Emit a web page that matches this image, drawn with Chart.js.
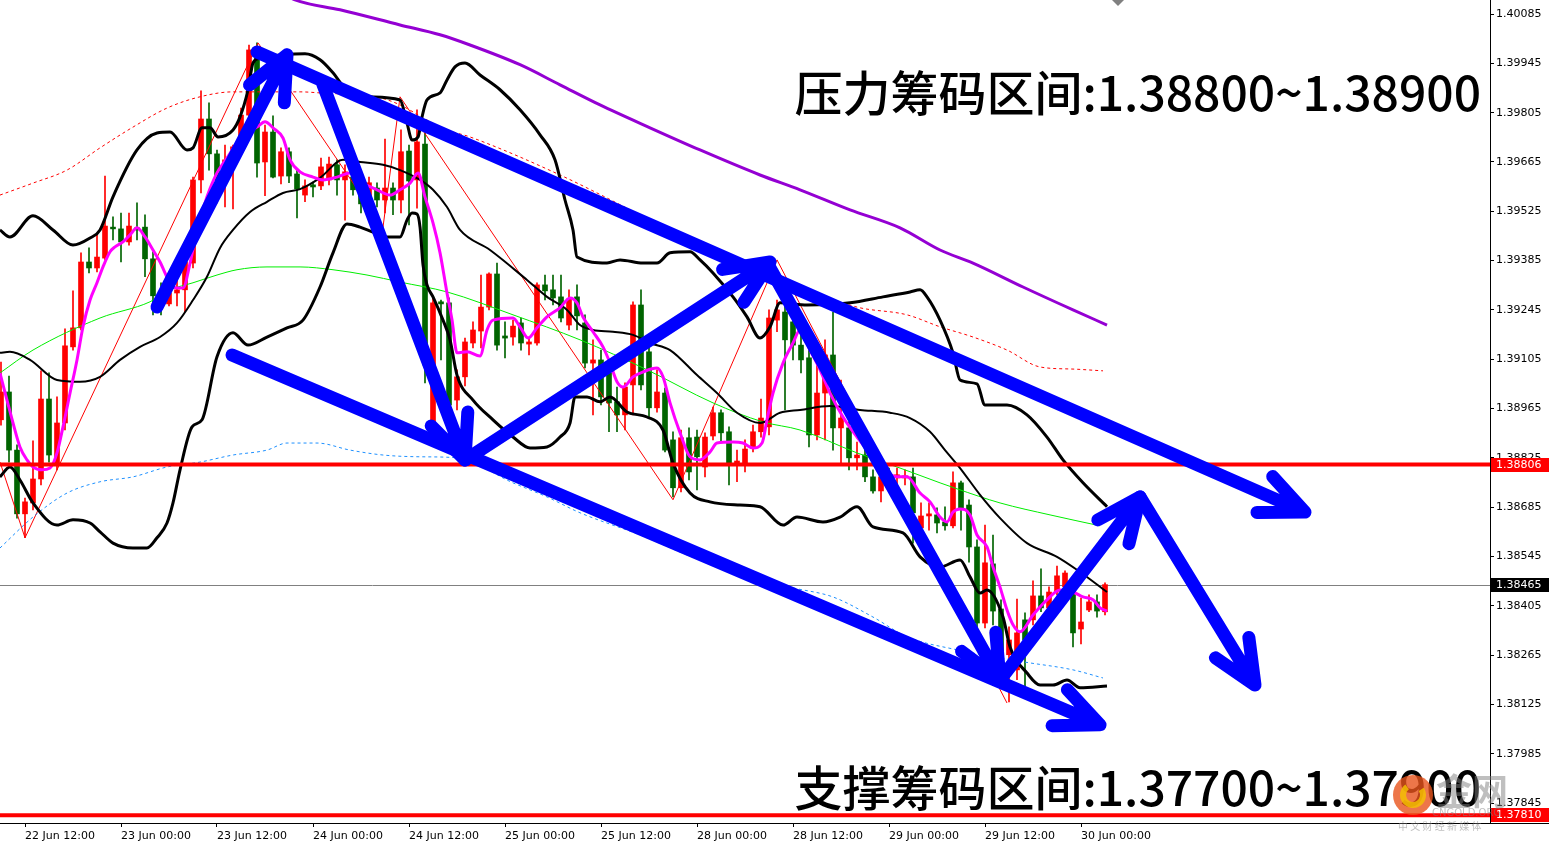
<!DOCTYPE html>
<html>
<head>
<meta charset="utf-8">
<script src="https://cdn.jsdelivr.net/npm/chart.js@4/dist/chart.umd.min.js"></script>
<style>
html,body{margin:0;padding:0;background:#fff;overflow:hidden}
canvas{display:block}
</style>
</head>
<body>
<canvas id="c" width="1549" height="843"></canvas>
<script>
// H1 bars, index 0 = 22 Jun 12:00
const firstBar = -3;
const candleOpen = [1.38933,1.39012,1.38847,1.38666,1.38697,1.38765,1.38992,1.38805,1.38924,1.39140,
1.39194,1.39381,1.39364,1.39392,1.39480,1.39475,1.39438,1.39478,1.39480,1.39390,
1.39285,1.39262,1.39293,1.39302,1.39378,1.39614,1.39787,1.39688,1.39614,1.39651,
1.39708,1.39798,1.39963,1.39665,1.39750,1.39625,1.39694,1.39631,1.39571,1.39600,
1.39597,1.39614,1.39657,1.39614,1.39622,1.39591,1.39566,1.39591,1.39557,1.39591,
1.39557,1.39696,1.39614,1.39716,1.38918,1.39268,1.39265,1.38989,1.39055,1.39151,
1.39185,1.39253,1.39347,1.39171,1.39168,1.39208,1.39148,1.39151,1.39316,1.39302,
1.39282,1.39202,1.39282,1.39208,1.39094,1.39103,1.39066,1.38984,1.38947,1.39032,
1.39259,1.39126,1.38967,1.39009,1.38876,1.38740,1.38882,1.38884,1.38799,1.38887,
1.38953,1.38899,1.38810,1.38810,1.38856,1.38899,1.38913,1.39216,1.39239,1.39211,
1.39145,1.39109,1.38890,1.39009,1.39117,1.38910,1.38910,1.38825,1.38833,1.38771,
1.38731,1.38779,1.38768,1.38768,1.38771,1.38626,1.38660,1.38663,1.38643,1.38632,
1.38754,1.38691,1.38572,1.38356,1.38524,1.38396,1.38266,1.38223,1.38365,1.38365,
1.38433,1.38399,1.38444,1.38459,1.38459,1.38339,1.38393,1.38416,1.38388];
const candleHigh = [1.39097,1.39057,1.38862,1.38711,1.38873,1.39072,1.39066,1.38998,1.39191,1.39299,
1.39407,1.39421,1.39461,1.39625,1.39509,1.39520,1.39520,1.39549,1.39515,1.39410,
1.39322,1.39322,1.39336,1.39401,1.39622,1.39867,1.39833,1.39699,1.39713,1.39713,
1.39818,1.39997,1.40003,1.39770,1.39796,1.39705,1.39705,1.39645,1.39614,1.39608,
1.39676,1.39679,1.39671,1.39657,1.39637,1.39608,1.39622,1.39606,1.39730,1.39606,
1.39756,1.39713,1.39813,1.39747,1.39282,1.39273,1.39279,1.39075,1.39165,1.39211,
1.39344,1.39350,1.39378,1.39211,1.39216,1.39222,1.39168,1.39322,1.39344,1.39344,
1.39344,1.39302,1.39316,1.39231,1.39160,1.39131,1.39103,1.39026,1.39038,1.39268,
1.39302,1.39145,1.39075,1.39023,1.38899,1.38904,1.38910,1.38904,1.38896,1.38969,
1.38961,1.38913,1.38847,1.38876,1.38918,1.38992,1.39245,1.39273,1.39259,1.39253,
1.39236,1.39145,1.39154,1.39160,1.39239,1.39046,1.38927,1.38870,1.38847,1.38791,
1.38791,1.38796,1.38796,1.38791,1.38796,1.38697,1.38697,1.38683,1.38686,1.38785,
1.38759,1.38706,1.38592,1.38634,1.38606,1.38422,1.38345,1.38424,1.38385,1.38476,
1.38510,1.38459,1.38518,1.38504,1.38478,1.38427,1.38436,1.38436,1.38470];
const candleLow = [1.38918,1.38813,1.38654,1.38598,1.38677,1.38748,1.38813,1.38791,1.38904,1.39131,
1.39188,1.39350,1.39353,1.39387,1.39444,1.39381,1.39429,1.39444,1.39339,1.39231,
1.39231,1.39256,1.39256,1.39239,1.39364,1.39577,1.39642,1.39549,1.39537,1.39532,
1.39699,1.39784,1.39622,1.39569,1.39620,1.39603,1.39606,1.39506,1.39552,1.39566,
1.39586,1.39600,1.39571,1.39500,1.39571,1.39520,1.39543,1.39537,1.39520,1.39515,
1.39520,1.39486,1.39534,1.39038,1.38890,1.39103,1.38953,1.38961,1.39029,1.39137,
1.39137,1.39245,1.39131,1.39109,1.39145,1.39131,1.39117,1.39145,1.39273,1.39259,
1.39211,1.39188,1.39188,1.39080,1.38947,1.38975,1.38899,1.38899,1.38904,1.38947,
1.39018,1.38941,1.38955,1.38842,1.38714,1.38728,1.38762,1.38734,1.38771,1.38876,
1.38867,1.38748,1.38757,1.38785,1.38842,1.38884,1.38890,1.39183,1.38961,1.39103,
1.39066,1.38856,1.38876,1.38876,1.38847,1.38810,1.38791,1.38791,1.38757,1.38725,
1.38700,1.38734,1.38740,1.38748,1.38583,1.38598,1.38620,1.38612,1.38620,1.38626,
1.38620,1.38529,1.38336,1.38342,1.38351,1.38223,1.38132,1.38195,1.38175,1.38351,
1.38388,1.38388,1.38436,1.38450,1.38288,1.38297,1.38388,1.38373,1.38379];
const candleClose = [1.39012,1.38847,1.38666,1.38700,1.38765,1.38992,1.38833,1.38924,1.39143,1.39194,
1.39381,1.39364,1.39395,1.39483,1.39475,1.39438,1.39483,1.39472,1.39390,1.39285,
1.39262,1.39293,1.39302,1.39381,1.39614,1.39787,1.39688,1.39614,1.39671,1.39708,
1.39798,1.39983,1.39662,1.39750,1.39622,1.39694,1.39625,1.39588,1.39597,1.39594,
1.39651,1.39659,1.39614,1.39637,1.39586,1.39546,1.39606,1.39557,1.39591,1.39557,
1.39694,1.39611,1.39722,1.39089,1.39265,1.39262,1.38975,1.39055,1.39154,1.39188,
1.39253,1.39347,1.39145,1.39165,1.39199,1.39151,1.39154,1.39316,1.39299,1.39279,
1.39222,1.39276,1.39228,1.39094,1.39103,1.38998,1.38981,1.38947,1.39026,1.39259,
1.39032,1.38967,1.39012,1.38847,1.38740,1.38882,1.38785,1.38828,1.38884,1.38953,
1.38896,1.38810,1.38816,1.38850,1.38899,1.38938,1.39222,1.39245,1.39160,1.39145,
1.39103,1.38890,1.39009,1.39117,1.38910,1.38938,1.38825,1.38833,1.38771,1.38731,
1.38771,1.38768,1.38777,1.38774,1.38669,1.38660,1.38666,1.38640,1.38632,1.38754,
1.38683,1.38572,1.38356,1.38527,1.38390,1.38251,1.38308,1.38328,1.38308,1.38433,
1.38399,1.38444,1.38490,1.38498,1.38328,1.38359,1.38416,1.38390,1.38465];

const tickBars = [0,12,24,36,48,60,72,84,96,108,120,132];
const timeLabels = ['22 Jun 12:00','23 Jun 00:00','23 Jun 12:00','24 Jun 00:00','24 Jun 12:00','25 Jun 00:00',
  '25 Jun 12:00','28 Jun 00:00','28 Jun 12:00','29 Jun 00:00','29 Jun 12:00','30 Jun 00:00'];
const priceTicks = [1.40085,1.39945,1.39805,1.39665,1.39525,1.39385,1.39245,1.39105,1.38965,1.38825,
  1.38685,1.38545,1.38405,1.38265,1.38125,1.37985,1.37845];

// indicator lines: [bar, price]
const bbUpper = [[-3.13,1.39472],[-1.88,1.39452],[1,1.39512],[3.5,1.39472],[6,1.39429],[8.13,1.39449],[9.38,1.39472],[11,1.39566],[14,1.39699],[16.5,1.39747],[18.13,1.39750],[20.25,1.39699],[21,1.39705],[22.13,1.39762],[23.13,1.39762],[24.13,1.39736],[26,1.39756],[26.88,1.39793],[27.88,1.39870],[28.5,1.39946],[29.38,1.39960],[32.25,1.39969],[35,1.39972],[36.88,1.39955],[38.5,1.39918],[40,1.39875],[42.75,1.39850],[46.88,1.39841],[47.75,1.39776],[48.38,1.39727],[49.13,1.39736],[49.63,1.39793],[50.25,1.39841],[51.88,1.39861],[52.75,1.39898],[53.75,1.39935],[55,1.39946],[56.88,1.39912],[59.38,1.39870],[61.88,1.39813],[64.38,1.39742],[66.25,1.39671],[67.5,1.39557],[68.5,1.39472],[69,1.39395],[72.75,1.39378],[74.38,1.39387],[77.25,1.39378],[79,1.39378],[80.63,1.39407],[83.13,1.39410],[84.38,1.39387],[86,1.39350],[88.5,1.39282],[90.25,1.39225],[91.88,1.39165],[93.13,1.39197],[94.38,1.39265],[97.75,1.39259],[103.13,1.39265],[107.25,1.39282],[110.63,1.39296],[111.88,1.39302],[112.75,1.39282],[114.38,1.39216],[116,1.39123],[116.88,1.39046],[119,1.39035],[120,1.38975],[122.75,1.38975],[125.25,1.38947],[127.75,1.38884],[129.75,1.38819],[132.25,1.38754],[135.25,1.38686]];
const bbMiddle = [[-3.13,1.39123],[-1.88,1.39126],[0.63,1.39103],[4,1.39046],[6.88,1.39041],[9.38,1.39055],[11.88,1.39103],[14.38,1.39140],[16.88,1.39168],[19,1.39208],[21,1.39273],[22.75,1.39339],[24.38,1.39421],[26,1.39472],[28.13,1.39523],[30.25,1.39552],[32.25,1.39577],[34.38,1.39588],[36.88,1.39620],[39.75,1.39671],[41.88,1.39665],[44.75,1.39657],[46.88,1.39642],[49.38,1.39614],[51,1.39586],[52.75,1.39537],[54.38,1.39472],[58.13,1.39415],[62.75,1.39330],[65.25,1.39282],[67.75,1.39245],[69.38,1.39202],[71,1.39188],[73.5,1.39183],[76,1.39174],[78.13,1.39151],[80.63,1.39131],[84,1.39060],[86.5,1.39009],[89,1.38953],[91.88,1.38924],[94.38,1.38953],[96.88,1.38961],[100.63,1.38972],[104.38,1.38961],[108.13,1.38953],[110.63,1.38938],[113.13,1.38899],[115,1.38847],[116.88,1.38796],[119.38,1.38720],[121.88,1.38654],[125.25,1.38583],[129,1.38544],[131.88,1.38501],[135.25,1.38444]];
const bbLower = [[-3.13,1.38771],[-1.88,1.38799],[-0.63,1.38762],[1,1.38697],[4,1.38634],[6,1.38649],[8.13,1.38640],[9.38,1.38615],[11,1.38583],[13.5,1.38569],[15.25,1.38569],[16.5,1.38598],[17.75,1.38640],[18.5,1.38697],[19.38,1.38791],[20.88,1.38913],[22.13,1.38933],[24,1.39112],[26,1.39180],[27.88,1.39145],[30.25,1.39168],[32.75,1.39194],[34.75,1.39216],[36.88,1.39310],[38.5,1.39407],[40.25,1.39489],[41.88,1.39480],[43.5,1.39466],[45.25,1.39452],[46.88,1.39452],[47.75,1.39500],[48.38,1.39520],[49,1.39517],[49.38,1.39480],[49.75,1.39373],[50.25,1.39316],[51,1.39282],[52.25,1.39216],[53.13,1.39160],[54,1.39060],[56,1.38989],[58.5,1.38933],[61,1.38884],[63.13,1.38853],[65.25,1.38856],[66.88,1.38884],[68.13,1.38924],[68.75,1.38998],[70.25,1.38998],[71.88,1.38984],[73.13,1.38998],[75.25,1.38955],[77.75,1.38941],[79.75,1.38904],[81,1.38810],[83.13,1.38725],[85.63,1.38700],[89.38,1.38691],[91.88,1.38686],[94.75,1.38634],[96.5,1.38657],[99.75,1.38643],[101.88,1.38657],[104,1.38686],[106,1.38629],[109.75,1.38612],[111.88,1.38544],[114.38,1.38515],[116.88,1.38535],[118.13,1.38487],[119.38,1.38441],[120.25,1.38450],[122.25,1.38373],[123.13,1.38288],[125.25,1.38214],[126.88,1.38180],[128.5,1.38180],[130.25,1.38194],[131.88,1.38172],[135.25,1.38177]];
const fastMa = [[-3.13,1.39066],[-2.25,1.38989],[-1.5,1.38924],[-0.63,1.38856],[0.25,1.38819],[1,1.38799],[2.13,1.38791],[3.13,1.38796],[4,1.38839],[4.75,1.38913],[5.63,1.39009],[6.5,1.39103],[7.25,1.39197],[8.13,1.39273],[9,1.39322],[9.75,1.39367],[10.63,1.39410],[11.25,1.39424],[12.25,1.39438],[13.13,1.39458],[14,1.39478],[15,1.39452],[16,1.39415],[16.88,1.39381],[18.13,1.39322],[19,1.39307],[19.75,1.39307],[20.63,1.39378],[21.5,1.39472],[22.75,1.39566],[24,1.39634],[25.25,1.39676],[26.5,1.39719],[27.75,1.39747],[29,1.39764],[30,1.39779],[31,1.39762],[32.25,1.39733],[33.13,1.39671],[34.38,1.39637],[36,1.39622],[37.25,1.39614],[39,1.39622],[40.63,1.39634],[42.25,1.39605],[44,1.39586],[45.63,1.39571],[46.88,1.39586],[48.13,1.39605],[49.13,1.39634],[50,1.39566],[51,1.39492],[51.88,1.39407],[52.75,1.39293],[53.38,1.39216],[54,1.39123],[55.25,1.39126],[56.88,1.39114],[57.75,1.39188],[58.5,1.39216],[61,1.39222],[61.88,1.39197],[62.88,1.39165],[64,1.39194],[65.25,1.39225],[66.88,1.39251],[68.13,1.39279],[69,1.39265],[69.75,1.39225],[71,1.39183],[72.25,1.39140],[73.13,1.39094],[74,1.39041],[74.75,1.39026],[76,1.39055],[77.25,1.39069],[79,1.39080],[79.75,1.39055],[80.63,1.38981],[81.88,1.38896],[83.13,1.38828],[84.38,1.38819],[85.63,1.38842],[86.5,1.38867],[88.5,1.38870],[89.75,1.38867],[91,1.38853],[92.13,1.38867],[92.75,1.38933],[93.5,1.39009],[94.75,1.39094],[96,1.39151],[96.88,1.39188],[98.13,1.39131],[99.38,1.39075],[100.63,1.39009],[102.25,1.38941],[104,1.38884],[106,1.38828],[107.75,1.38785],[109,1.38771],[110.25,1.38771],[111.88,1.38725],[113.13,1.38700],[114.38,1.38657],[115.25,1.38643],[116,1.38671],[116.88,1.38680],[118.13,1.38663],[119,1.38606],[120.25,1.38572],[121,1.38515],[121.88,1.38458],[122.75,1.38393],[123.5,1.38351],[124.38,1.38331],[126,1.38379],[127.75,1.38422],[129.38,1.38450],[131,1.38444],[132.25,1.38430],[133.5,1.38422],[134.38,1.38399],[135.25,1.38390]];
const slowMa = [[-3.13,1.39066],[1,1.39131],[9.38,1.39222],[15.63,1.39268],[18.13,1.39302],[21,1.39322],[24,1.39344],[26.5,1.39359],[30.25,1.39367],[34.38,1.39367],[38.5,1.39359],[42.75,1.39344],[46.88,1.39324],[52.75,1.39296],[61,1.39231],[69.38,1.39160],[77.75,1.39075],[86,1.38981],[92.25,1.38927],[96.88,1.38904],[104,1.38839],[109.38,1.38796],[114.38,1.38754],[116.5,1.38737],[121.88,1.38697],[128.13,1.38663],[134.38,1.38632]];
const longMa = [[32.5,1.40140],[33.75,1.40125],[39.38,1.40097],[46.88,1.40054],[51.88,1.40026],[55.63,1.39997],[61.88,1.39941],[66.88,1.39884],[71.88,1.39827],[78.13,1.39762],[84.38,1.39699],[91.88,1.39628],[96.88,1.39586],[103.13,1.39529],[109.38,1.39478],[114.38,1.39415],[118.5,1.39378],[124.75,1.39310],[131,1.39245],[135.25,1.39202]];
const envUpper = [[-3.13,1.39571],[1,1.39605],[5.25,1.39642],[9.38,1.39705],[13.5,1.39764],[17.75,1.39818],[21.88,1.39850],[26,1.39864],[34.38,1.39864],[36.88,1.39861],[44.38,1.39847],[46.88,1.39827],[50.25,1.39784],[52.75,1.39756],[55.63,1.39736],[66.88,1.39628],[76.88,1.39515],[84.38,1.39429],[91.88,1.39353],[95.63,1.39322],[104,1.39253],[110.25,1.39231],[114.38,1.39197],[118.5,1.39168],[122.75,1.39131],[126.88,1.39083],[131,1.39077],[134.75,1.39072]];
const envLower = [[-3.13,1.38569],[1,1.38657],[5.25,1.38725],[9.38,1.38757],[13.5,1.38771],[17.75,1.38799],[21.88,1.38813],[26,1.38833],[30.25,1.38847],[32.75,1.38867],[36.5,1.38867],[40.63,1.38847],[44.75,1.38833],[49.38,1.38828],[54,1.38825],[61,1.38754],[65.25,1.38714],[69.38,1.38669],[76.88,1.38606],[84.38,1.38535],[95.63,1.38458],[101,1.38430],[106,1.38373],[110.25,1.38317],[116.5,1.38280],[124.75,1.38246],[131,1.38223],[134.75,1.38200]];
const zigzag = [[-3.13,1.38813],[0,1.38598],[29.13,1.40003],[44.75,1.39480],[46.88,1.39850],[81,1.38706],[94,1.39387],[122.75,1.38129]];

// levels
const resistLevel = 1.38806;
const supportLevel = 1.37810;
const bidLevel = 1.38465;

// hand-drawn arrows (bar, price)
const arrowFromBar = [16.5, 29, 37.25, 25.88, 55, 93.13, 121.88, 139.38];
const arrowFromPrice = [1.39253, 1.39977, 1.39884, 1.39117, 1.38819, 1.39364, 1.38194, 1.38714];
const arrowToBar = [32.75, 160, 55, 134.38, 93.13, 121.88, 139.38, 153.75];
const arrowToPrice = [1.39969, 1.38671, 1.38819, 1.38067, 1.39381, 1.38194, 1.38714, 1.38180];

const resistText = '压力筹码区间:1.38800~1.38900';
const supportText = '支撑筹码区间:1.37700~1.37900';

// build datasets
const bodies = [], wicks = [], colors = [];
for (let i = 0; i < candleOpen.length; i++) {
  const bar = firstBar + i;
  const o = candleOpen[i], c = candleClose[i];
  bodies.push({x: bar, y: [Math.min(o, c), Math.max(o, c)]});
  wicks.push({x: bar, y: [candleLow[i], candleHigh[i]]});
  colors.push(c >= o ? '#ff0000' : '#006400');
}
const pts = arr => arr.map(p => ({x: p[0], y: p[1]}));
function lineSet(arr, color, width, order, dash) {
  return {type: 'line', data: pts(arr), borderColor: color, borderWidth: width, pointRadius: 0,
    fill: false, cubicInterpolationMode: 'monotone', borderDash: dash || [], order: order};
}

const overlay = {
  id: 'overlay',
  beforeDatasetsDraw(chart) {
    const {ctx, chartArea: a, scales: {y}} = chart;
    const yb = Math.round(y.getPixelForValue(bidLevel)) + 0.5;
    ctx.save();
    ctx.strokeStyle = '#808080'; ctx.lineWidth = 1;
    ctx.beginPath(); ctx.moveTo(a.left, yb); ctx.lineTo(a.right, yb); ctx.stroke();
    ctx.restore();
  },
  afterDatasetsDraw(chart) {
    const {ctx, chartArea: a, scales: {x, y}} = chart;
    ctx.save();
    // level lines
    ctx.strokeStyle = '#ff0000'; ctx.lineWidth = 4;
    [resistLevel, supportLevel].forEach(v => {
      const py = y.getPixelForValue(v);
      ctx.beginPath(); ctx.moveTo(a.left, py); ctx.lineTo(a.right, py); ctx.stroke();
    });
    // arrows
    ctx.strokeStyle = '#0000ff'; ctx.lineWidth = 13; ctx.lineCap = 'round'; ctx.lineJoin = 'round';
    for (let i = 0; i < arrowFromBar.length; i++) {
      const x0 = x.getPixelForValue(arrowFromBar[i]), y0 = y.getPixelForValue(arrowFromPrice[i]);
      const x1 = x.getPixelForValue(arrowToBar[i]), y1 = y.getPixelForValue(arrowToPrice[i]);
      const ang = Math.atan2(y0 - y1, x0 - x1);
      const len = 48, spread = 0.42;
      ctx.beginPath();
      ctx.moveTo(x0, y0); ctx.lineTo(x1, y1);
      ctx.moveTo(x1 + len * Math.cos(ang + spread), y1 + len * Math.sin(ang + spread));
      ctx.lineTo(x1, y1);
      ctx.lineTo(x1 + len * Math.cos(ang - spread), y1 + len * Math.sin(ang - spread));
      ctx.stroke();
    }
    ctx.restore();
  },
  afterDraw(chart) {
    const {ctx, chartArea: a, scales: {y}} = chart;
    ctx.save();
    // bottom line across full width
    ctx.strokeStyle = '#000'; ctx.lineWidth = 1;
    ctx.beginPath(); ctx.moveTo(0, a.bottom + 0.5); ctx.lineTo(chart.width, a.bottom + 0.5); ctx.stroke();
    // price boxes on axis
    ctx.font = '11px "DejaVu Sans"'; ctx.textBaseline = 'middle'; ctx.textAlign = 'left';
    [[resistLevel, '#ff0000'], [bidLevel, '#000000'], [supportLevel, '#ff0000']].forEach(([v, col]) => {
      const py = Math.round(y.getPixelForValue(v));
      ctx.fillStyle = col;
      ctx.fillRect(a.right + 1, py - 7, chart.width - a.right - 1, 14);
      ctx.fillStyle = '#fff';
      ctx.fillText(v.toFixed(5), a.right + 6, py + 0.5);
    });
    // small marker at top
    ctx.fillStyle = '#808080';
    ctx.beginPath(); ctx.moveTo(1112, 0); ctx.lineTo(1124, 0); ctx.lineTo(1118, 6); ctx.closePath(); ctx.fill();
    // annotations
    ctx.fillStyle = '#000';
    ctx.font = '500 48px "Noto Sans CJK SC"';
    ctx.textAlign = 'right'; ctx.textBaseline = 'alphabetic';
    ctx.fillText(resistText, 1481, 111);
    ctx.fillText(supportText, 1481, 806);
    // watermark logo
    ctx.globalAlpha = 0.8;
    ctx.fillStyle = '#e8541c';
    ctx.beginPath(); ctx.arc(1413, 795, 20, 0, Math.PI * 2); ctx.fill();
    ctx.strokeStyle = '#f5c400'; ctx.lineWidth = 6;
    ctx.beginPath(); ctx.arc(1413, 795, 10, -0.6, Math.PI * 1.3); ctx.stroke();
    ctx.globalAlpha = 0.5;
    ctx.fillStyle = '#808080';
    ctx.font = 'bold 36px "Noto Sans CJK SC"'; ctx.textAlign = 'left';
    ctx.fillText('金网', 1436, 805);
    ctx.font = '10px "DejaVu Sans"';
    ctx.fillText('CNGOLD.ORG', 1432, 816);
    ctx.font = '10px "Noto Sans CJK SC"';
    ctx.fillText('中 文 财 经 新 媒 体', 1398, 830);
    ctx.restore();
  }
};

new Chart(document.getElementById('c'), {
  type: 'bar',
  data: {
    datasets: [
      lineSet(bbUpper, '#000000', 3, 2),
      lineSet(bbMiddle, '#000000', 2, 2),
      lineSet(bbLower, '#000000', 3, 2),
      lineSet(fastMa, '#ff00ff', 3, 1),
      lineSet(slowMa, '#00ee00', 1, 3),
      lineSet(longMa, '#9400d3', 3, 3),
      lineSet(envUpper, '#ff0000', 1, 3, [3, 3]),
      lineSet(envLower, '#1e90ff', 1, 3, [3, 3]),
      {type: 'line', data: pts(zigzag), borderColor: '#ff0000', borderWidth: 1, pointRadius: 0, fill: false, tension: 0, order: 3},
      {type: 'bar', data: wicks, backgroundColor: colors, barThickness: 1, grouped: false, order: 6},
      {type: 'bar', data: bodies, backgroundColor: colors, barThickness: 5, minBarLength: 1, grouped: false, order: 5}
    ]
  },
  options: {
    responsive: false,
    animation: false,
    devicePixelRatio: 1,
    layout: {padding: 0},
    plugins: {legend: {display: false}, tooltip: {enabled: false}},
    scales: {
      x: {
        type: 'linear', position: 'bottom', min: -3.125, max: 183.125, offset: false,
        afterFit(s) { s.height = 20; s.paddingLeft = 0; s.paddingRight = 0; },
        afterBuildTicks(s) { s.ticks = tickBars.map(v => ({value: v})); },
        grid: {display: true, drawOnChartArea: false, tickLength: 4, color: '#000', offset: false},
        border: {display: true, color: '#000'},
        ticks: {autoSkip: false, maxRotation: 0, align: 'start', padding: 3, color: '#000',
          font: {family: 'DejaVu Sans', size: 11},
          callback: v => timeLabels[tickBars.indexOf(v)]}
      },
      y: {
        type: 'linear', position: 'right', min: 1.377883, max: 1.401248,
        afterFit(s) { s.width = 59; s.paddingTop = 0; s.paddingBottom = 0; },
        afterBuildTicks(s) { s.ticks = priceTicks.map(v => ({value: v})); },
        grid: {display: true, drawOnChartArea: false, tickLength: 4, color: '#000'},
        border: {display: true, color: '#000'},
        ticks: {padding: 2, color: '#000', font: {family: 'DejaVu Sans', size: 11},
          callback: v => v.toFixed(5)}
      }
    }
  },
  plugins: [overlay]
});
</script>
</body>
</html>
